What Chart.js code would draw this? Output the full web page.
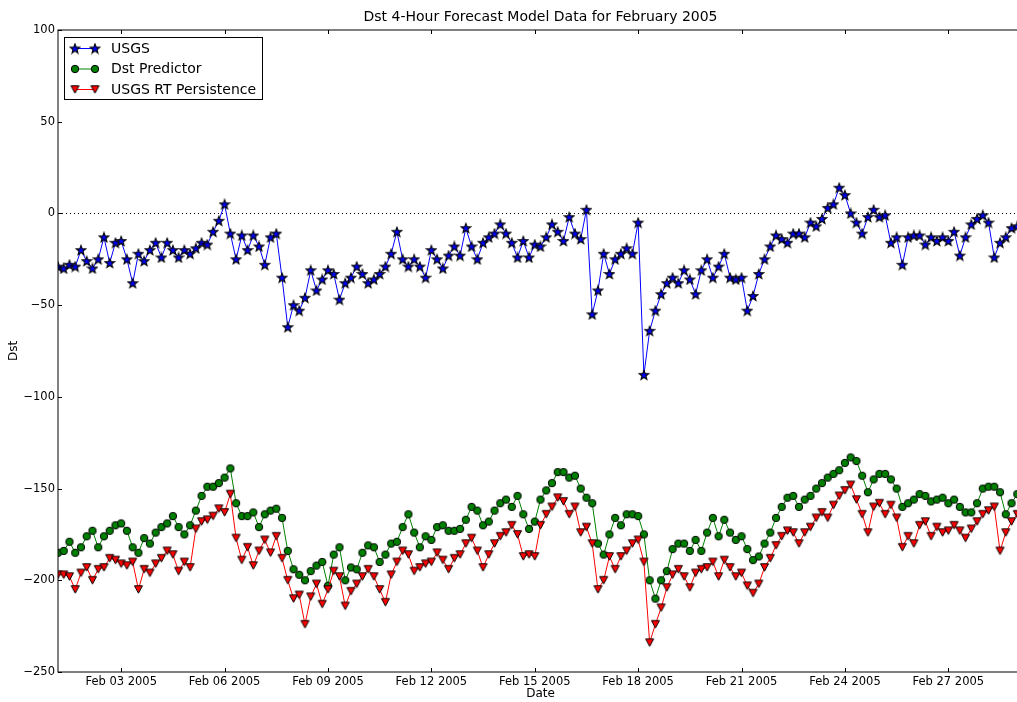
<!DOCTYPE html>
<html>
<head>
<meta charset="utf-8">
<title>Dst 4-Hour Forecast Model Data for February 2005</title>
<script src="https://cdn.jsdelivr.net/npm/chart.js@4.4.1/dist/chart.umd.min.js"></script>
<style>
html, body { margin: 0; padding: 0; background: #fff; overflow: hidden; }
#dstChart { display: block; width: 1028px; height: 702px; }
</style>
</head>
<body>
<canvas id="dstChart" width="1028" height="702"></canvas>
<script>
// samples every 4 hours, first one Feb 01 04:00 (x = day of month)
const startDay = 1 + 4 / 24;
const stepDays = 4 / 24;
const tickDays = [3, 6, 9, 12, 15, 18, 21, 24, 27];
const chartTitle = 'Dst 4-Hour Forecast Model Data for February 2005';

const usgs = [
    -29, -30, -28, -29, -20, -26, -30, -25, -13, -27,
    -16, -15, -25, -38, -22, -26, -20, -16, -24, -16,
    -20, -24, -20, -22, -19, -16, -17, -10, -4, 5,
    -11, -25, -12, -20, -12, -18, -28, -13, -11, -35,
    -62, -50, -53, -46, -31, -42, -36, -31, -33, -47,
    -38, -35, -29, -33, -38, -36, -33, -29, -22, -10,
    -25, -29, -25, -29, -35, -20, -25, -30, -23, -18,
    -23, -8, -18, -25, -16, -13, -11, -6, -11, -16,
    -24, -15, -24, -17, -18, -13, -6, -10, -15, -2,
    -11, -14, 2, -55, -42, -22, -33, -25, -22, -19,
    -22, -5, -88, -64, -53, -44, -38, -35, -38, -31,
    -36, -44, -31, -25, -35, -29, -22, -35, -36, -35,
    -53, -45, -33, -25, -18, -12, -14, -16, -11, -11,
    -13, -5, -7, -3, 3, 5, 14, 10, 0, -5,
    -11, -2, 2, -2, -1, -16, -13, -28, -13, -12,
    -12, -17, -13, -15, -13, -15, -10, -23, -13, -6,
    -3, -1, -5, -24, -16, -13, -8, -7, -6
];

const dstPredictor = [
    -185, -184, -179, -185, -182, -176, -173, -182, -176, -173,
    -170, -169, -173, -182, -185, -177, -180, -174, -171, -169,
    -165, -171, -175, -170, -162, -154, -149, -149, -147, -144,
    -139, -158, -165, -165, -163, -171, -164, -162, -161, -166,
    -184, -194, -197, -200, -195, -192, -190, -203, -186, -182,
    -200, -193, -194, -185, -181, -182, -190, -186, -180, -179,
    -171, -164, -174, -182, -176, -178, -171, -170, -173, -173,
    -172, -167, -160, -162, -170, -168, -162, -158, -156, -160,
    -154, -164, -172, -168, -156, -151, -147, -141, -141, -144,
    -143, -150, -155, -158, -180, -186, -175, -166, -170, -164,
    -164, -165, -175, -200, -210, -200, -195, -183, -180, -180,
    -184, -178, -184, -174, -166, -176, -167, -174, -178, -176,
    -183, -189, -187, -180, -174, -166, -160, -155, -154, -160,
    -156, -154, -150, -147, -144, -142, -140, -136, -133, -135,
    -143, -152, -145, -142, -142, -145, -150, -160, -158, -156,
    -153, -154, -157, -156, -155, -158, -156, -160, -163, -163,
    -158, -150, -149, -149, -152, -164, -158, -153, -152
];

const rtPersistence = [
    -197, -197, -198, -205, -196, -193, -200, -194, -193, -188,
    -189, -191, -192, -190, -205, -194, -196, -191, -188, -184,
    -186, -195, -190, -193, -172, -168, -167, -165, -161, -163,
    -153, -177, -189, -182, -192, -184, -178, -185, -176, -188,
    -200, -210, -208, -224, -209, -202, -213, -205, -195, -198,
    -214, -206, -202, -198, -194, -198, -205, -212, -197, -190,
    -184, -186, -195, -193, -191, -190, -185, -189, -194, -188,
    -186, -180, -177, -184, -193, -186, -180, -176, -174, -170,
    -175, -187, -186, -187, -170, -164, -160, -155, -157, -164,
    -160, -174, -171, -180, -205, -200, -187, -194, -187, -184,
    -180, -178, -190, -234, -224, -215, -204, -197, -194, -198,
    -204, -196, -194, -193, -190, -198, -189, -193, -198, -196,
    -203, -207, -202, -193, -188, -181, -176, -173, -174, -180,
    -174, -171, -166, -163, -166, -159, -154, -151, -148, -156,
    -164, -174, -160, -158, -164, -159, -166, -182, -176, -180,
    -170, -168, -176, -171, -174, -173, -170, -173, -177, -172,
    -168, -164, -162, -160, -184, -174, -168, -164, -163
];

function toPoints(values) {
    return values.map((v, i) => ({ x: startDay + i * stepDays, y: v }));
}

function starMarker() {
    const c = document.createElement('canvas');
    c.width = 12; c.height = 12;
    const g = c.getContext('2d');
    g.beginPath();
    for (let i = 0; i < 10; i++) {
        const r = i % 2 ? 2.1 : 5;
        const a = -Math.PI / 2 + i * Math.PI / 5;
        g.lineTo(6 + r * Math.cos(a), 6.4 + r * Math.sin(a));
    }
    g.closePath();
    g.fillStyle = '#0000ff';
    g.fill();
    g.lineWidth = 1.1;
    g.lineJoin = 'miter';
    g.strokeStyle = '#000';
    g.stroke();
    return c;
}

function circleMarker() {
    const c = document.createElement('canvas');
    c.width = 10; c.height = 10;
    const g = c.getContext('2d');
    g.beginPath();
    g.arc(5, 5, 3.7, 0, Math.PI * 2);
    g.fillStyle = '#008000';
    g.fill();
    g.lineWidth = 1;
    g.strokeStyle = '#000';
    g.stroke();
    return c;
}

function triangleDownMarker() {
    const c = document.createElement('canvas');
    c.width = 11; c.height = 11;
    const g = c.getContext('2d');
    g.beginPath();
    g.moveTo(1.5, 1.8);
    g.lineTo(9.5, 1.8);
    g.lineTo(5.5, 9.2);
    g.closePath();
    g.fillStyle = '#ff0000';
    g.fill();
    g.lineWidth = 1;
    g.strokeStyle = '#000';
    g.stroke();
    return c;
}

const markers = {
    usgs: starMarker(),
    dst: circleMarker(),
    rt: triangleDownMarker()
};

function pad2(n) {
    return String(n).padStart(2, '0');
}

// matplotlib look: box, inward ticks, dotted zero line, title, legend in the axes
const mplLook = {
    id: 'mplLook',
    beforeDatasetsDraw(chart) {
        const ctx = chart.ctx;
        const a = chart.chartArea;
        const y0 = Math.round(chart.scales.y.getPixelForValue(0)) + 0.5;
        ctx.save();
        ctx.strokeStyle = '#000';
        ctx.lineWidth = 1;
        ctx.setLineDash([1, 3]);
        ctx.beginPath();
        ctx.moveTo(a.left, y0);
        ctx.lineTo(a.right, y0);
        ctx.stroke();
        ctx.restore();
    },
    afterDraw(chart) {
        const ctx = chart.ctx;
        const a = chart.chartArea;
        const xs = chart.scales.x;
        const ys = chart.scales.y;
        ctx.save();
        ctx.strokeStyle = '#000';
        ctx.lineWidth = 1;
        ctx.strokeRect(a.left, a.top, a.right - a.left, a.bottom - a.top);

        ctx.beginPath();
        xs.ticks.forEach(t => {
            const px = Math.round(xs.getPixelForValue(t.value)) + 0.5;
            ctx.moveTo(px, a.bottom); ctx.lineTo(px, a.bottom - 4);
            ctx.moveTo(px, a.top); ctx.lineTo(px, a.top + 4);
        });
        ys.ticks.forEach(t => {
            const py = Math.round(ys.getPixelForValue(t.value)) + 0.5;
            ctx.moveTo(a.left, py); ctx.lineTo(a.left + 4, py);
            ctx.moveTo(a.right, py); ctx.lineTo(a.right - 4, py);
        });
        ctx.stroke();

        // title
        ctx.fillStyle = '#000';
        ctx.font = '14px "DejaVu Sans", sans-serif';
        ctx.textAlign = 'center';
        ctx.textBaseline = 'middle';
        ctx.fillText(chartTitle, (a.left + a.right) / 2, 17);

        // legend
        const lx = 64.5, ly = 37.5, lw = 198, lh = 62;
        ctx.fillStyle = '#fff';
        ctx.fillRect(lx, ly, lw, lh);
        ctx.strokeStyle = '#000';
        ctx.strokeRect(lx, ly, lw, lh);
        ctx.textAlign = 'left';
        chart.data.datasets.forEach((ds, i) => {
            const yy = 48.5 + i * 20.5;
            ctx.strokeStyle = ds.borderColor;
            ctx.beginPath();
            ctx.moveTo(75, yy);
            ctx.lineTo(95, yy);
            ctx.stroke();
            const m = ds.pointStyle;
            ctx.drawImage(m, 75 - m.width / 2, yy - m.height / 2);
            ctx.drawImage(m, 95 - m.width / 2, yy - m.height / 2);
            ctx.fillStyle = '#000';
            ctx.fillText(ds.label, 111, yy + 0.5);
        });
        ctx.restore();
    }
};

Chart.defaults.font.family = '"DejaVu Sans", sans-serif';
Chart.defaults.color = '#000';

const ctx = document.getElementById('dstChart').getContext('2d');
const dstChart = new Chart(ctx, {
    type: 'line',
    data: {
        datasets: [
            {
                label: 'USGS',
                data: toPoints(usgs),
                borderColor: '#0000ff',
                borderWidth: 1,
                pointStyle: markers.usgs,
                pointRadius: 4,
                order: 3
            },
            {
                label: 'Dst Predictor',
                data: toPoints(dstPredictor),
                borderColor: '#008000',
                borderWidth: 1,
                pointStyle: markers.dst,
                pointRadius: 4,
                order: 2
            },
            {
                label: 'USGS RT Persistence',
                data: toPoints(rtPersistence),
                borderColor: '#ff0000',
                borderWidth: 1,
                pointStyle: markers.rt,
                pointRadius: 4,
                order: 1
            }
        ]
    },
    options: {
        responsive: false,
        animation: false,
        devicePixelRatio: 1,
        layout: { padding: { top: 30, right: 2, left: 0, bottom: 0 } },
        elements: { line: { tension: 0 } },
        plugins: {
            legend: { display: false },
            title: { display: false },
            tooltip: { enabled: false }
        },
        scales: {
            x: {
                type: 'linear',
                min: startDay,
                max: 29 + 4 / 24,
                grid: { display: false, drawTicks: false },
                border: { display: false },
                afterFit: s => { s.height = 30; },
                afterBuildTicks: s => { s.ticks = tickDays.map(v => ({ value: v })); },
                ticks: {
                    font: { size: 11.5 },
                    padding: 3,
                    maxRotation: 0,
                    autoSkip: false,
                    callback: v => 'Feb ' + pad2(v) + ' 2005'
                },
                title: { display: true, text: 'Date', font: { size: 12 }, padding: { top: 0, bottom: 1 } }
            },
            y: {
                min: -250,
                max: 100,
                grid: { display: false, drawTicks: false },
                border: { display: false },
                afterFit: s => { s.width = 58; },
                ticks: {
                    stepSize: 50,
                    font: { size: 11.5 },
                    padding: 3,
                    callback: v => v < 0 ? '\u2212' + Math.abs(v) : String(v)
                },
                title: { display: true, text: 'Dst', font: { size: 12 }, padding: { top: 7, bottom: 0 } }
            }
        }
    },
    plugins: [mplLook]
});
</script>
</body>
</html>
